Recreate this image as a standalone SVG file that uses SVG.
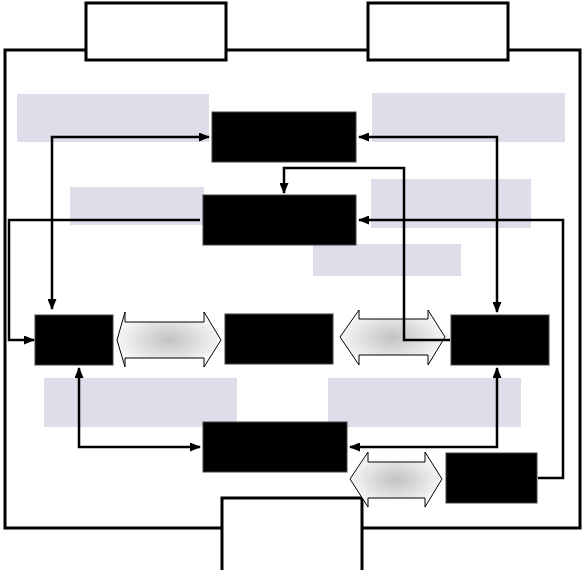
<svg xmlns="http://www.w3.org/2000/svg" width="582" height="570" viewBox="0 0 582 570">
<style>
.lav{fill:#e0dcea;stroke:none}
.blk{fill:#000;stroke:#444;stroke-width:1}
.wbox{fill:#fff;stroke:#000;stroke-width:3;stroke-linecap:square}
.frame{fill:none;stroke:#000;stroke-width:3;stroke-linecap:square}
.con{fill:none;stroke:#000;stroke-width:2.5}
.barrow{fill:url(#grad);stroke:#000;stroke-width:1}
</style>
<defs>
<marker id="ah" markerUnits="userSpaceOnUse" markerWidth="11" markerHeight="9" refX="10" refY="4.5" orient="auto-start-reverse">
<path d="M0,0 L11,4.5 L0,9 z" fill="#000"/>
</marker>
<radialGradient id="grad" cx="0.5" cy="0.5" r="0.5">
<stop offset="0" stop-color="#c2c2c2"/>
<stop offset="1" stop-color="#f6f6f6"/>
</radialGradient>
</defs>
<rect width="582" height="570" fill="#fff"/>

<g id="frame">
<path class="frame" d="M86,50 H5 V528 H222 M226,50 H368 M508,50 H580 V528 H362"/>
</g>

<g id="top-left-box"><rect class="wbox" x="86" y="3" width="140" height="57"/></g>
<g id="top-right-box"><rect class="wbox" x="368" y="3" width="140" height="57"/></g>
<g id="bottom-box"><path class="wbox" d="M222,570 V498 H362 V570"/></g>

<g id="label-1"><rect class="lav" x="17" y="94" width="192" height="48"/></g>
<g id="label-2"><rect class="lav" x="372" y="93" width="193" height="49"/></g>
<g id="label-3"><rect class="lav" x="70" y="187" width="134" height="38"/></g>
<g id="label-4"><rect class="lav" x="371" y="179" width="160" height="49"/></g>
<g id="label-5"><rect class="lav" x="313" y="244" width="148" height="32"/></g>
<g id="label-6"><rect class="lav" x="44" y="378" width="193" height="49"/></g>
<g id="label-7"><rect class="lav" x="328" y="378" width="193" height="49"/></g>

<g id="double-arrow-1"><path class="barrow" d="M117,340 L125,312 V322 H204 V312 L221,340 L204,367 V358 H125 V367 Z"/></g>
<g id="double-arrow-2"><path class="barrow" d="M340,337 L359,310 V319 H428 V310 L445,337 L428,365 V355 H359 V365 Z"/></g>
<g id="double-arrow-3"><path class="barrow" d="M350,479 L368,452 V462 H425 V452 L442,479 L425,507 V498 H368 V507 Z"/></g>

<g id="node-a"><rect class="blk" x="212" y="112" width="144" height="50"/></g>
<g id="node-b"><rect class="blk" x="203" y="195" width="153" height="50"/></g>
<g id="node-c"><rect class="blk" x="35" y="315" width="78" height="50"/></g>
<g id="node-d"><rect class="blk" x="225" y="314" width="108" height="50"/></g>
<g id="node-e"><rect class="blk" x="451" y="315" width="98" height="50"/></g>
<g id="node-f"><rect class="blk" x="203" y="422" width="144" height="50"/></g>
<g id="node-g"><rect class="blk" x="446" y="453" width="91" height="50"/></g>

<g id="connectors">
<path class="con" d="M209,137 H52 V309" marker-start="url(#ah)" marker-end="url(#ah)"/>
<path class="con" d="M359,137 H497 V312" marker-start="url(#ah)" marker-end="url(#ah)"/>
<path class="con" d="M450,340 H404 V168 H284 V193" marker-end="url(#ah)"/>
<path class="con" d="M200,220 H9 V340 H34" marker-end="url(#ah)"/>
<path class="con" d="M538,478 H563 V220 H359" marker-end="url(#ah)"/>
<path class="con" d="M79,368 V447 H200" marker-start="url(#ah)" marker-end="url(#ah)"/>
<path class="con" d="M497,368 V447 H350" marker-start="url(#ah)" marker-end="url(#ah)"/>
</g>
</svg>
